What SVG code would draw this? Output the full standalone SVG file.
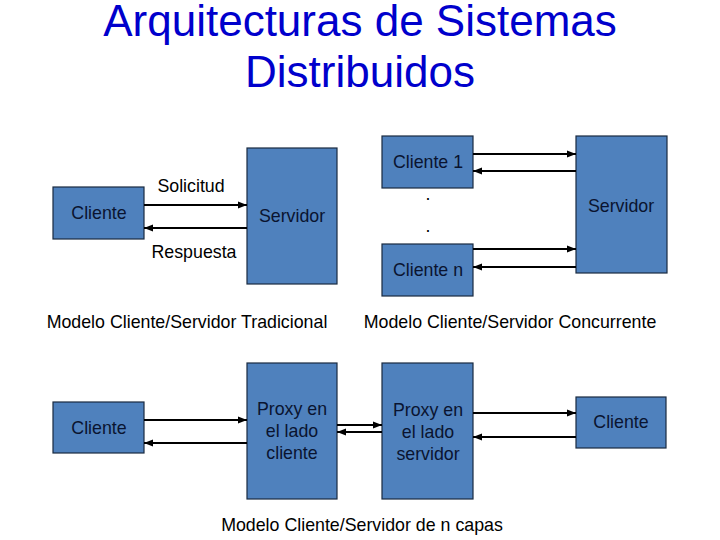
<svg xmlns="http://www.w3.org/2000/svg" width="720" height="540" viewBox="0 0 720 540">
<defs>
<marker id="ah" markerWidth="10" markerHeight="8" refX="9" refY="4" orient="auto" markerUnits="userSpaceOnUse">
<path d="M0,0.5 L9,4 L0,7.5 Z" fill="#000"/>
</marker>
<style>
.box{fill:#4F81BD;stroke:#1a2a40;stroke-width:1.2}
.bt{font-family:"Liberation Sans",Arial,sans-serif;font-size:17.8px;fill:#0a1430;text-anchor:middle}
.lbl{font-family:"Liberation Sans",Arial,sans-serif;font-size:17.8px;fill:#000;text-anchor:middle}
.title{font-family:"Liberation Sans",Arial,sans-serif;font-size:44px;fill:#0000CC;text-anchor:middle}
.c{stroke:#000;stroke-width:2.2;fill:none;marker-end:url(#ah)}
</style>
</defs>
<rect width="720" height="540" fill="#fff"/>
<g id="title">
<text class="title" x="360" y="36">Arquitecturas de Sistemas</text>
<text class="title" x="360" y="87">Distribuidos</text>
</g>
<g id="cliente-trad"><rect class="box" x="53" y="187" width="91" height="52"/><text class="bt" x="99" y="219">Cliente</text></g>
<g id="servidor-trad"><rect class="box" x="247" y="148" width="90" height="136"/><text class="bt" x="292" y="222">Servidor</text></g>
<g id="cliente1"><rect class="box" x="382" y="136" width="91" height="52"/><text class="bt" x="428" y="168">Cliente 1</text></g>
<g id="clienten"><rect class="box" x="382" y="244" width="91" height="52"/><text class="bt" x="428" y="276">Cliente n</text></g>
<g id="servidor-conc"><rect class="box" x="576" y="136" width="91" height="137"/><text class="bt" x="621" y="212">Servidor</text></g>
<g id="cliente-ncapas"><rect class="box" x="53" y="402" width="91" height="51"/><text class="bt" x="99" y="434">Cliente</text></g>
<g id="proxy-cliente"><rect class="box" x="247" y="363" width="90" height="136"/><text class="bt" x="292" y="415">Proxy en</text><text class="bt" x="292" y="437">el lado</text><text class="bt" x="292" y="459">cliente</text></g>
<g id="proxy-servidor"><rect class="box" x="382" y="363" width="91" height="136"/><text class="bt" x="428" y="416">Proxy en</text><text class="bt" x="428" y="438">el lado</text><text class="bt" x="428" y="460">servidor</text></g>
<g id="cliente-der"><rect class="box" x="576" y="397" width="90" height="51"/><text class="bt" x="621" y="428">Cliente</text></g>
<g id="connectors">
<line class="c" x1="144" y1="205" x2="247" y2="205"/>
<line class="c" x1="247" y1="228" x2="144" y2="228"/>
<line class="c" x1="473" y1="154" x2="576" y2="154"/>
<line class="c" x1="576" y1="171" x2="473" y2="171"/>
<line class="c" x1="473" y1="249" x2="576" y2="249"/>
<line class="c" x1="576" y1="267" x2="473" y2="267"/>
<line class="c" x1="144" y1="420" x2="247" y2="420"/>
<line class="c" x1="247" y1="443" x2="144" y2="443"/>
<line class="c" x1="337" y1="425" x2="382" y2="425"/>
<line class="c" x1="382" y1="432" x2="337" y2="432"/>
<line class="c" x1="473" y1="413" x2="576" y2="413"/>
<line class="c" x1="576" y1="437" x2="473" y2="437"/>
</g>
<g id="labels">
<text class="lbl" x="191" y="192">Solicitud</text>
<text class="lbl" x="194" y="258">Respuesta</text>
<text class="lbl" x="428" y="200">.</text>
<text class="lbl" x="428" y="232">.</text>
<text class="lbl" x="187" y="328">Modelo Cliente/Servidor Tradicional</text>
<text class="lbl" x="510" y="328">Modelo Cliente/Servidor Concurrente</text>
<text class="lbl" x="362" y="531">Modelo Cliente/Servidor de n capas</text>
</g>
</svg>
